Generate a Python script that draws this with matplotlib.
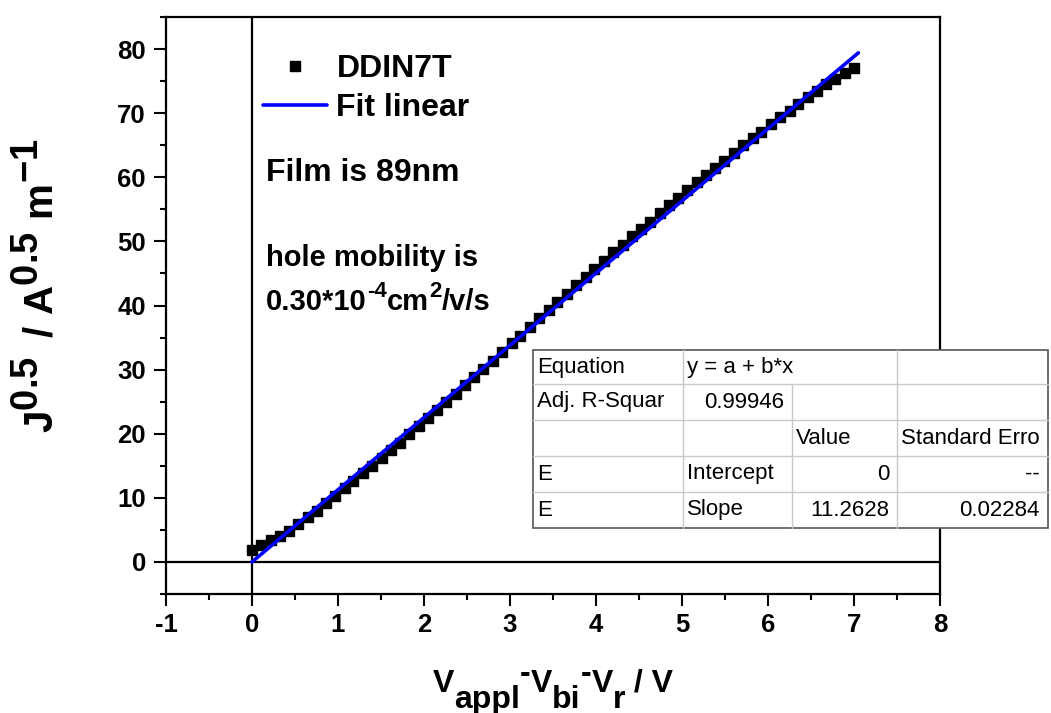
import matplotlib
matplotlib.use("Agg")
import matplotlib.pyplot as plt
import matplotlib._mathtext as _mt
from matplotlib.patches import Rectangle
from matplotlib.ticker import MultipleLocator

# Origin-style full-size superscripts in the y-axis title
_mt.SHRINK_FACTOR = 0.95

plt.rcParams['font.family'] = ['Liberation Sans', 'DejaVu Sans']
plt.rcParams['mathtext.fontset'] = 'custom'
plt.rcParams['mathtext.rm'] = 'Liberation Sans:bold'
plt.rcParams['mathtext.it'] = 'Liberation Sans:bold'
plt.rcParams['mathtext.bf'] = 'Liberation Sans:bold'
plt.rcParams['mathtext.default'] = 'rm'
plt.rcParams['axes.unicode_minus'] = False

# ---- data ----
x_data = [0.00, 0.11, 0.22, 0.32, 0.43, 0.54, 0.65, 0.75, 0.86, 0.97,
          1.08, 1.18, 1.29, 1.40, 1.51, 1.62, 1.72, 1.83, 1.94, 2.05,
          2.15, 2.26, 2.37, 2.48, 2.58, 2.69, 2.80, 2.91, 3.02, 3.12,
          3.23, 3.34, 3.45, 3.55, 3.66, 3.77, 3.88, 3.98, 4.09, 4.20,
          4.31, 4.42, 4.52, 4.63, 4.74, 4.85, 4.95, 5.06, 5.17, 5.28,
          5.38, 5.49, 5.60, 5.71, 5.82, 5.92, 6.03, 6.14, 6.25, 6.35,
          6.46, 6.57, 6.68, 6.78, 6.89, 7.00]
y_data = [1.8, 2.6, 3.4, 4.1, 4.9, 5.9, 7.0, 8.0, 9.2, 10.3,
          11.5, 12.6, 13.8, 15.0, 16.2, 17.4, 18.6, 19.9, 21.2, 22.5,
          23.7, 25.0, 26.2, 27.6, 28.8, 30.1, 31.4, 32.7, 34.1, 35.3,
          36.7, 38.0, 39.3, 40.5, 41.8, 43.2, 44.5, 45.7, 47.0, 48.3,
          49.5, 50.8, 51.9, 53.1, 54.4, 55.6, 56.8, 58.0, 59.2, 60.4,
          61.4, 62.6, 63.8, 65.0, 66.1, 67.1, 68.3, 69.4, 70.4, 71.4,
          72.5, 73.5, 74.5, 75.4, 76.3, 77.0]
fit_intercept = 0.0
fit_slope = 11.2628
fit_x = [0.0, 7.05]
fit_y = [fit_intercept + fit_slope * v for v in fit_x]

x_ticks = [-1, 0, 1, 2, 3, 4, 5, 6, 7, 8]
y_ticks = [0, 10, 20, 30, 40, 50, 60, 70, 80]

table_rows = [
    ["Equation", "y = a + b*x", "", ""],
    ["Adj. R-Squar", "0.99946", "", ""],
    ["", "", "Value", "Standard Erro"],
    ["E", "Intercept", "0", "--"],
    ["E", "Slope", "11.2628", "0.02284"],
]

# ---- figure ----
W, H = 1051, 713
fig = plt.figure(figsize=(W / 100, H / 100), dpi=100)
ax = fig.add_axes([166 / W, 1 - 594 / H, (940 - 166) / W, (594 - 17) / H])

ax.axhline(0, color='black', lw=1.6, zorder=1)
ax.axvline(0, color='black', lw=1.6, zorder=1)
ax.plot(x_data, y_data, linestyle='none', marker='s', ms=7.5, color='black',
        label='DDIN7T', zorder=2)
ax.plot(fit_x, fit_y, color='#0000ff', lw=2.6, label='Fit linear', zorder=3,
        solid_capstyle='round')

ax.set_xlim(-1, 8)
ax.set_ylim(-5, 85)
ax.set_xticks(x_ticks)
ax.set_yticks(y_ticks)
ax.xaxis.set_minor_locator(MultipleLocator(0.5))
ax.yaxis.set_minor_locator(MultipleLocator(5))
ax.tick_params(which='both', direction='out', width=1.5, top=False, right=False,
               labelsize=18.5)
ax.tick_params(which='major', length=8.5)
ax.tick_params(axis='y', which='major', pad=6)
ax.tick_params(axis='x', which='major', pad=5)
ax.tick_params(which='minor', length=4.3)
for lab in ax.get_xticklabels() + ax.get_yticklabels():
    lab.set_fontweight('bold')
for s in ax.spines.values():
    s.set_linewidth(1.6)

ax.set_ylabel(r'$J^{0.5}\,\ /\ A^{0.5}\ m^{-1}$', fontsize=29)
ax.yaxis.set_label_coords(-0.136, 0.535)

# x-axis title built from pieces (full-size, well-dropped subscripts)
xl_pieces = [('V', 0), ('appl', -1), ('-', 1), ('V', 0), ('bi', -1), ('-', 1),
             ('V', 0), ('r', -1), (' / V', 0)]
XL_SIZE = 23
xl_base = fig.text(0.5, 1 - 699 / H, xl_pieces[0][0], fontsize=XL_SIZE,
                   fontweight='bold', ha='left', va='bottom')
xl_arts = [xl_base]
for txt, kind in xl_pieces[1:]:
    dy = {0: 0, -1: -11.5, 1: 7}[kind]
    art = ax.annotate(txt, xy=(1, 0), xycoords=(xl_arts[-1], xl_base),
                      xytext=(0, dy), textcoords='offset points',
                      va='bottom', ha='left', fontsize=XL_SIZE,
                      fontweight='bold', annotation_clip=False)
    xl_arts.append(art)

leg = ax.legend(loc='upper left', bbox_to_anchor=((263 - 166) / 774, (594 - 54) / 577),
                frameon=False, fontsize=23, handlelength=2.0, handletextpad=0.3,
                labelspacing=0.28, borderpad=0, borderaxespad=0)
for t in leg.get_texts():
    t.set_fontweight('bold')

ax.text(0.129, 0.73, 'Film is 89nm', transform=ax.transAxes, fontsize=23,
        fontweight='bold', va='center', ha='left')
ax.text(0.129, 0.582, 'hole mobility is', transform=ax.transAxes, fontsize=21,
        fontweight='bold', va='center', ha='left')

# mobility line built from pieces (smaller superscripts)
mob_pieces = [('0.30*10', 0), ('-4', 1), ('cm', 0), ('2', 1), ('/v/s', 0)]
base = ax.text(0.129, 0.506, mob_pieces[0][0], transform=ax.transAxes,
               fontsize=21, fontweight='bold', va='center', ha='left')
prev = base
for txt, sup in mob_pieces[1:]:
    prev = ax.annotate(txt, xy=(1, 0), xycoords=(prev, base),
                       xytext=(0.5 if sup else 0, 10 if sup else 0),
                       textcoords='offset points', va='bottom', ha='left',
                       fontsize=16 if sup else 21, fontweight='bold')

# ---- fit result table (overlay in pixel coords) ----
ov = fig.add_axes([0, 0, 1, 1], zorder=10)
ov.set_xlim(0, W)
ov.set_ylim(H, 0)
ov.axis('off')
cols = [533, 683, 792, 897, 1048]
rows = [350, 384, 420, 456, 492, 528]
ov.add_patch(Rectangle((cols[0], rows[0]), cols[-1] - cols[0], rows[-1] - rows[0],
                       facecolor='white', edgecolor='none'))
grid_c = '#c8c8c8'
for rr in rows[1:-1]:
    ov.plot([cols[0], cols[-1]], [rr, rr], color=grid_c, lw=1.0)
ov.plot([cols[1], cols[1]], [rows[0], rows[-1]], color=grid_c, lw=1.0)
ov.plot([cols[2], cols[2]], [rows[1], rows[-1]], color=grid_c, lw=1.0)
ov.plot([cols[3], cols[3]], [rows[0], rows[-1]], color=grid_c, lw=1.0)
ov.add_patch(Rectangle((cols[0], rows[0]), cols[-1] - cols[0], rows[-1] - rows[0],
                       facecolor='none', edgecolor='#555555', lw=1.2))
right_align = {(1, 1), (3, 2), (3, 3), (4, 2), (4, 3)}
for i, row in enumerate(table_rows):
    yc = (rows[i] + rows[i + 1]) / 2
    for j, txt in enumerate(row):
        if not txt:
            continue
        if (i, j) in right_align:
            ov.text(cols[j + 1] - 8, yc, txt, ha='right', va='center', fontsize=16)
        else:
            ov.text(cols[j] + 4, yc, txt, ha='left', va='center', fontsize=16)

# centre the composed x-axis title under the axes
fig.canvas.draw()
r = fig.canvas.get_renderer()
x0 = xl_arts[0].get_window_extent(r).x0
x1 = xl_arts[-1].get_window_extent(r).x1
target_center = (166 + 940) / 2
xl_base.set_x((target_center - (x1 - x0) / 2) / W)

fig.savefig('out.png', dpi=100)
